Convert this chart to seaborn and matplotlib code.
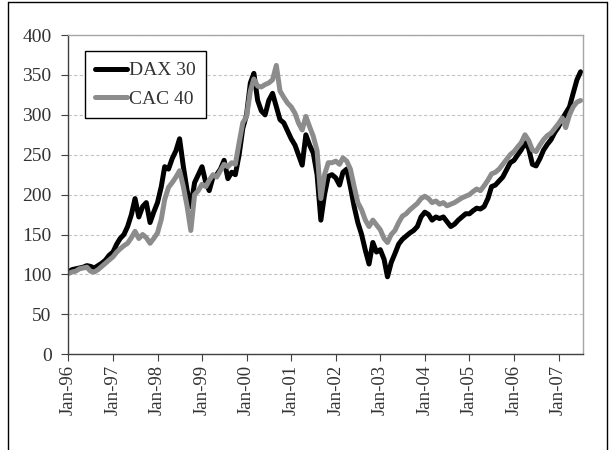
import pandas as pd
import matplotlib
matplotlib.use("Agg")
import matplotlib.pyplot as plt
import matplotlib.dates as mdates
from matplotlib.lines import Line2D
import seaborn as sns

# monthly index levels, Jan-96 = 100
dax = [103, 106, 107, 108, 109, 111, 110, 108, 111, 114, 118, 124,
       128, 138, 145, 150, 160, 175, 195, 172, 185, 190, 165, 178,
       190, 210, 235, 232, 245, 255, 270, 235, 205, 185, 215, 225,
       235, 215, 205, 222, 225, 232, 243, 220, 228, 225, 250, 283,
       300, 340, 352, 318, 305, 300, 318, 327, 310, 294, 290, 280,
       270, 262, 250, 237, 275, 262, 252, 225, 168, 200, 223, 225,
       221, 212, 228, 232, 210, 185, 165, 150, 130, 113, 140, 128,
       131, 119, 97, 115, 126, 138, 144, 148, 152, 155, 160, 172,
       178, 175, 168, 172, 170, 172, 166, 160, 163, 168, 172, 176,
       176, 180, 183, 182, 185, 195, 210, 212, 217, 222, 231, 240,
       243, 250, 256, 265, 258, 238, 236, 245, 256, 263, 269, 278,
       285, 295, 302, 310, 327, 344, 354]

cac = [101, 103, 104, 107, 108, 109, 104, 103, 106, 110, 114, 118,
       122, 128, 132, 136, 139, 146, 154, 145, 150, 146, 139, 145,
       152, 169, 194, 209, 215, 222, 230, 210, 185, 155, 200, 205,
       213, 210, 218, 225, 222, 230, 238, 235, 240, 238, 265, 290,
       298, 330, 345, 336, 335, 338, 340, 344, 362, 330, 322, 315,
       310, 302, 290, 281, 298, 285, 273, 255, 195, 225, 240, 240,
       242, 238, 246, 242, 232, 210, 190, 181, 168, 160, 168, 162,
       156, 145, 140, 150, 155, 165, 173, 176, 181, 185, 189, 195,
       198, 195, 190, 192, 188, 190, 186, 188, 190, 193, 196, 198,
       200, 204, 207, 205, 211, 218, 226, 228, 232, 238, 244, 250,
       254, 260, 265, 275, 268, 256, 254, 262, 269, 274, 277, 283,
       289, 296, 284, 300, 310, 316, 318]

dates = pd.date_range("1996-01-01", periods=len(dax), freq="MS")
series_names = ["DAX 30", "CAC 40"]
series_colors = ["#000000", "#8c8c8c"]
tick_dates = pd.date_range("1996-01-01", "2007-01-01", freq="YS")
y_ticks = [0, 50, 100, 150, 200, 250, 300, 350, 400]

df = pd.DataFrame({
    "date": list(dates) * 2,
    "value": dax + cac,
    "index": [series_names[0]] * len(dax) + [series_names[1]] * len(cac),
})

sns.set_style("white")
plt.rcParams["font.family"] = ["Liberation Serif", "DejaVu Serif"]

fig = plt.figure(figsize=(6.1, 4.5), dpi=100)
ax = fig.add_axes([0.112, 0.213, 0.844, 0.709])

sns.lineplot(data=df, x="date", y="value", hue="index", hue_order=series_names,
             palette=series_colors, linewidth=3.6, legend=False, ax=ax)

ax.set_xlim(pd.Timestamp("1996-01-01"), pd.Timestamp("2007-07-22"))
ax.set_ylim(0, 400)
ax.set_yticks(y_ticks)
ax.set_xticks(tick_dates)
ax.xaxis.set_major_formatter(mdates.DateFormatter("%b-%y"))
ax.set_xlabel("")
ax.set_ylabel("")

ax.yaxis.grid(True, linestyle=(0, (3, 2)), color="#c4c4c4", linewidth=0.8)
ax.xaxis.grid(False)

for side in ["top", "right"]:
    ax.spines[side].set_color("#a6a6a6")
    ax.spines[side].set_linewidth(1.0)
for side in ["left", "bottom"]:
    ax.spines[side].set_color("#404040")
    ax.spines[side].set_linewidth(1.0)

ax.tick_params(axis="both", which="major", direction="out", length=5,
               width=0.8, color="#404040", labelsize=14, labelcolor="#333333", pad=3)
ax.tick_params(axis="y", left=True, pad=7)
ax.tick_params(axis="x", bottom=True, labelsize=13.5)
plt.setp(ax.get_xticklabels(), rotation=90)

handles = [Line2D([], [], color=c, linewidth=3.6) for c in series_colors]
leg = ax.legend(handles, series_names, loc="upper left", bbox_to_anchor=(0.032, 0.95),
                frameon=True, fancybox=False, edgecolor="#000000", framealpha=1,
                fontsize=14, handlelength=1.6, handletextpad=0.1,
                borderpad=0.55, labelspacing=0.55, borderaxespad=0)
leg.get_frame().set_linewidth(1.0)
for t in leg.get_texts():
    t.set_color("#333333")

# outer frame of the exhibit
frame_kw = dict(transform=fig.transFigure, color="#000000", linewidth=1.0)
fig.add_artist(Line2D([0.0131, 0.0131], [0.0, 0.9956], **frame_kw))
fig.add_artist(Line2D([0.0131, 0.995], [0.9956, 0.9956], **frame_kw))
fig.add_artist(Line2D([0.995, 0.995], [0.0, 0.9956], **frame_kw))

fig.savefig("out.png", dpi=100)
